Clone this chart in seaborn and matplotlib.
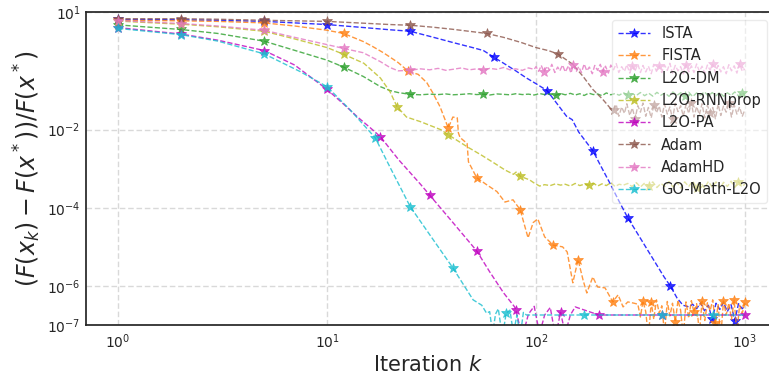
import numpy as np
import matplotlib
matplotlib.use("Agg")
import matplotlib.pyplot as plt
from matplotlib.ticker import NullLocator
import seaborn as sns

# iteration grid shared by the noisy tails (k = 25 ... 1000)
K_LATE = [25, 28, 31, 34, 37, 40, 44, 48, 52, 56,
          60, 65, 70, 75, 80, 86, 92, 98, 104, 110,
          117, 124, 131, 138, 146, 154, 162, 170, 179, 188,
          197, 207, 217, 228, 239, 250, 262, 275, 288, 302,
          316, 331, 346, 362, 379, 396, 414, 433, 452, 472,
          493, 515, 538, 562, 587, 613, 640, 668, 697, 727,
          758, 790, 823, 858, 894, 931, 970, 1000]

# finer grid for the widest noise bands (k = 100 ... 1000)
K_DENSE = [100, 103, 106, 109, 113, 116, 119, 123, 127, 130,
           134, 138, 143, 147, 151, 156, 160, 165, 170, 175,
           180, 186, 191, 197, 203, 209, 215, 222, 228, 235,
           242, 249, 257, 265, 272, 281, 289, 298, 307, 316,
           325, 335, 345, 356, 366, 377, 389, 400, 412, 425,
           437, 450, 464, 478, 492, 507, 522, 538, 554, 570,
           587, 605, 623, 642, 661, 681, 701, 722, 744, 766,
           789, 813, 837, 862, 888, 915, 942, 971, 1000]


def after(grid, start, stop=None):
    return [k for k in grid if k >= start and (stop is None or k <= stop)]


# ISTA
k_ista = [1, 2, 3, 5, 7, 10, 15, 20, 25, 32, 40, 50, 56, 63, 70, 80, 90, 100,
          113, 125, 140, 149, 160, 175, 187, 200, 225, 250, 275, 300, 340,
          375, 410, 440, 473, 505, 540] + after(K_LATE, 562)
v_ista = [6.6, 6.5, 6.3, 5.9, 5.4, 4.9, 4.1, 3.6, 3.3, 2.34, 1.7, 1.25, 1.06,
          0.71, 0.50, 0.32, 0.21, 0.15, 0.10, 0.049, 0.022, 0.018, 8.7e-3,
          4.6e-3, 2.9e-3, 1.45e-3, 4.4e-4, 1.45e-4, 5.5e-5, 2.6e-5, 8.7e-6,
          3.7e-6, 1.7e-6, 9.8e-7, 4.9e-7, 3.2e-7, 2.9e-7,
          3.4e-7, 2.6e-7, 3.7e-7, 2.3e-7, 3.2e-7, 1.4e-7, 3.6e-7, 2.5e-7,
          3.8e-7, 2.2e-7, 3.3e-7, 1.3e-7, 3.5e-7, 2.6e-7, 3.1e-7]

# FISTA
k_fista = [1, 2, 3, 5, 7, 10, 12, 14.9, 16.5, 18.6, 20, 21.9, 24.5, 27.3, 30,
           32, 34.7, 36.7, 38, 40, 42, 42.5, 43.3, 46.8, 47.5, 52, 58, 65, 71,
           77.6, 84, 91.6, 97, 102, 110, 121, 134, 141, 150, 159, 168, 175,
           187, 197, 214, 233, 247, 261, 275, 295] + after(K_DENSE, 307)
v_fista = [6.3, 6.1, 5.9, 5.4, 4.5, 3.5, 2.9, 1.8, 1.35, 0.93, 0.72, 0.52,
           0.31, 0.26, 0.16, 0.089, 0.039, 0.018, 0.011, 0.021, 0.020, 8.3e-3,
           6.3e-3, 4.4e-3, 1.5e-3, 5.9e-4, 3.9e-4, 2.6e-4, 1.4e-4, 1.6e-4,
           8.9e-5, 1.7e-5, 4.2e-5, 5.2e-5, 1.8e-5, 1.1e-5, 1.0e-5, 7.4e-6,
           1.2e-6, 4.7e-6, 1.4e-6, 6.6e-7, 1.7e-6, 9.4e-7, 8.9e-7, 3.9e-7,
           5.9e-7, 2.9e-7, 3.9e-7, 3.6e-7,
           3.4e-7, 1.6e-7, 4.1e-7, 2.2e-7, 5e-8, 3.8e-7, 1.4e-7, 4.4e-7, 2.0e-7, 3.1e-7,
           6e-8, 4.0e-7, 1.7e-7, 3.6e-7, 1.2e-7, 4.3e-7, 2.4e-7, 5e-8, 3.9e-7, 1.5e-7,
           4.2e-7, 2.1e-7, 3.5e-7, 6e-8, 4.0e-7, 1.3e-7, 3.7e-7, 2.3e-7, 4.4e-7, 1.1e-7,
           3.3e-7, 5e-8, 4.1e-7, 1.8e-7, 3.6e-7, 1.4e-7, 4.3e-7, 6e-8, 3.2e-7, 2.0e-7,
           3.8e-7]

# L2O-DM
k_dm = [1, 2, 3, 5, 7, 10, 12, 14.9, 18, 20, 21.9] + after(K_LATE, 25)
v_dm = [4.8, 3.66, 2.9, 1.84, 1.07, 0.6, 0.40, 0.23, 0.126, 0.10, 0.089,
        0.080, 0.078, 0.081, 0.079, 0.082, 0.078, 0.080, 0.083, 0.079, 0.081,
        0.077, 0.082, 0.080, 0.078, 0.083, 0.079, 0.081, 0.077, 0.084, 0.079,
        0.082, 0.076, 0.084, 0.078, 0.085, 0.077, 0.083, 0.075, 0.086, 0.079,
        0.082, 0.074, 0.087, 0.078, 0.084, 0.076, 0.088, 0.077, 0.083, 0.075,
        0.089, 0.074, 0.086, 0.072, 0.090, 0.076, 0.087, 0.071, 0.092, 0.075,
        0.088, 0.073, 0.091, 0.070, 0.087, 0.076, 0.093, 0.072, 0.089, 0.074,
        0.090, 0.071, 0.088, 0.075, 0.092, 0.073, 0.087, 0.079]

# L2O-RNNprop
k_rnn = [1, 2, 3, 5, 7, 10, 12, 15, 18, 20, 21.6, 24, 28, 35, 38, 47, 55, 63,
         71, 78, 81, 84, 93, 98] + after(K_LATE, 104)
v_rnn = [6.0, 5.0, 4.3, 3.3, 2.1, 1.26, 0.85, 0.50, 0.21, 0.094, 0.039, 0.021,
         0.016, 0.010, 7.4e-3, 3.6e-3, 2.2e-3, 1.4e-3, 9.3e-4, 7.2e-4, 8.5e-4,
         6.4e-4, 5.2e-4, 4.3e-4,
         3.6e-4, 3.9e-4, 3.7e-4, 4.1e-4, 3.8e-4, 4.0e-4, 3.6e-4, 4.2e-4, 3.7e-4, 4.0e-4,
         3.8e-4, 4.3e-4, 3.6e-4, 4.1e-4, 3.7e-4, 4.4e-4, 3.5e-4, 4.0e-4, 3.8e-4, 4.2e-4,
         3.5e-4, 4.4e-4, 3.4e-4, 4.3e-4, 3.6e-4, 4.6e-4, 3.3e-4, 4.2e-4, 3.5e-4, 4.7e-4,
         3.4e-4, 4.5e-4, 3.2e-4, 4.6e-4, 3.5e-4, 4.8e-4, 3.3e-4, 4.4e-4, 3.2e-4, 4.7e-4,
         3.4e-4, 4.6e-4, 3.1e-4, 4.5e-4, 3.5e-4, 4.8e-4, 3.3e-4, 4.6e-4, 3.6e-4, 4.0e-4]

# L2O-PA
k_pa = [1, 2, 3, 5, 7, 10, 12, 14, 16, 18, 22, 28, 31, 40, 52, 60, 70, 79,
        80, 86, 92, 98, 104, 110, 117, 124, 131, 138, 146, 154,
        200, 250, 320, 400, 500, 630, 800, 1000]
v_pa = [4.1, 2.8, 1.95, 1.06, 0.45, 0.107, 0.045, 0.021, 0.0115, 6.6e-3,
        1.7e-3, 4.0e-4, 2.1e-4, 4.2e-5, 7.9e-6, 2.3e-6, 6.6e-7, 2.9e-7,
        2.4e-7, 5e-8, 1.9e-7, 3.0e-7, 6e-8, 1.8e-7, 2.8e-7, 5e-8, 2.1e-7, 6e-8,
        1.8e-7, 2.9e-7,
        1.8e-7, 1.8e-7, 1.8e-7, 1.8e-7, 1.8e-7, 1.8e-7, 1.8e-7, 1.8e-7]

# Adam
k_adam = [1, 2, 3, 5, 7, 10, 15, 20, 25, 32, 40, 50, 58, 70, 85, 100, 115,
          127, 150, 168, 187, 209, 226] + after(K_DENSE, 235)
v_adam = [6.9, 6.9, 6.7, 6.3, 6.1, 5.9, 5.3, 4.9, 4.7, 4.2, 3.7, 3.2, 2.9,
          2.3, 1.7, 1.26, 1.05, 0.87, 0.47, 0.23, 0.107, 0.059, 0.036,
          0.032, 0.044, 0.022, 0.038, 0.026, 0.046, 0.023, 0.036, 0.019, 0.041,
          0.028, 0.048, 0.022, 0.037, 0.020, 0.043, 0.027, 0.040, 0.021, 0.045,
          0.025, 0.038, 0.019, 0.047, 0.029, 0.041, 0.022, 0.044, 0.026, 0.049,
          0.021, 0.039, 0.024, 0.046, 0.020, 0.042, 0.027, 0.037, 0.019, 0.045,
          0.023, 0.040, 0.028, 0.047, 0.021, 0.043, 0.025, 0.038, 0.022, 0.033]

# AdamHD
k_hd = ([1, 2, 3, 5, 7, 10, 12, 14.9, 18, 20, 21.9]
        + after(K_LATE, 25, 98) + K_DENSE)
v_hd = [6.2, 5.2, 4.5, 3.5, 2.3, 1.5, 1.2, 0.93, 0.55, 0.39, 0.32,
        0.33, 0.36, 0.34, 0.37, 0.33, 0.35, 0.38, 0.34, 0.36, 0.33,
        0.37, 0.35, 0.39, 0.34, 0.36, 0.33, 0.38, 0.35,
        0.41, 0.31, 0.44, 0.30, 0.42, 0.33, 0.47, 0.29, 0.40, 0.32,
        0.45, 0.30, 0.43, 0.28, 0.46, 0.31, 0.41, 0.29, 0.48, 0.32,
        0.40, 0.27, 0.44, 0.33, 0.47, 0.30, 0.42, 0.28, 0.45, 0.34,
        0.49, 0.29, 0.41, 0.31, 0.46, 0.28, 0.43, 0.32, 0.48, 0.29,
        0.44, 0.30, 0.42, 0.27, 0.47, 0.31, 0.43, 0.29, 0.45, 0.33,
        0.50, 0.28, 0.44, 0.32, 0.41, 0.27, 0.46, 0.30, 0.43, 0.29,
        0.48, 0.31, 0.42, 0.28, 0.45, 0.33, 0.47, 0.29, 0.44, 0.30,
        0.41, 0.27, 0.46, 0.32, 0.43, 0.28, 0.49, 0.31, 0.36]

# GO-Math-L2O
k_go = [1, 2, 3, 5, 7.4, 10, 12.9, 17, 20, 25, 32, 40, 45, 50, 55, 58,
        60, 62, 64, 66, 69, 72, 75, 78, 81, 84, 87, 90,
        100, 130, 170, 230, 300, 400, 530, 700, 1000]
v_go = [3.9, 2.7, 1.85, 0.87, 0.31, 0.126, 0.032, 6.2e-3, 1.1e-3, 1.07e-4,
        1.6e-5, 2.9e-6, 1.07e-6, 4.4e-7, 3.2e-7, 2.0e-7,
        2.2e-7, 6e-8, 1.9e-7, 2.6e-7, 5e-8, 2.0e-7, 2.4e-7, 6e-8, 1.8e-7, 5e-8,
        2.1e-7, 1.8e-7,
        1.8e-7, 1.8e-7, 1.8e-7, 1.8e-7, 1.8e-7, 1.8e-7, 1.8e-7, 1.8e-7, 1.8e-7]

labels = ['ISTA', 'FISTA', 'L2O-DM', 'L2O-RNNprop', 'L2O-PA', 'Adam',
          'AdamHD', 'GO-Math-L2O']
colors = ['blue', '#ff7f0e', '#2ca02c', '#bcbd22', '#bf00bf', '#8c564b',
          '#e377c2', '#17becf']
series = [(k_ista, v_ista), (k_fista, v_fista), (k_dm, v_dm), (k_rnn, v_rnn),
          (k_pa, v_pa), (k_adam, v_adam), (k_hd, v_hd), (k_go, v_go)]

yticks = [1e1, 1e-2, 1e-4, 1e-6, 1e-7]

sns.set_theme(style="whitegrid", rc={
    "axes.edgecolor": "0.15",
    "axes.linewidth": 1.25,
    "grid.linestyle": (0, (4, 2)),
    "grid.color": "0.85",
    "grid.linewidth": 1.0,
})
plt.rcParams['font.family'] = ['DejaVu Sans']

fig = plt.figure(figsize=(7.69, 3.77), dpi=100)
ax = fig.add_axes([0.112, 0.138, 0.888, 0.829])

for (k, v), name, c in zip(series, labels, colors):
    assert len(k) == len(v), name
    sns.lineplot(x=np.array(k, dtype=float), y=np.array(v), ax=ax, color=c,
                 label=name, linestyle='--', linewidth=1.0, alpha=0.8,
                 marker='*', markersize=7, markevery=0.1,
                 markeredgecolor=c, markeredgewidth=0.5, errorbar=None)

ax.set_xscale('log')
ax.set_yscale('log')
ax.set_yticks(yticks)
ax.xaxis.set_minor_locator(NullLocator())
ax.yaxis.set_minor_locator(NullLocator())
ax.set_xlim(10 ** -0.153, 10 ** 3.115)
ax.set_ylim(1e-7, 1e1)
ax.spines['right'].set_visible(False)
ax.tick_params(axis='x', labelsize=10, length=0, pad=5)
ax.tick_params(axis='y', labelsize=10, length=0, pad=4)

ax.set_xlabel(r'Iteration $k$', fontsize=15, labelpad=3)
ax.set_ylabel(r'$(F(x_k) - F(x^*))/F(x^*)$', fontsize=17, labelpad=3)

ax.legend(loc='upper right', bbox_to_anchor=(0.997, 0.975), borderaxespad=0,
          fontsize=10.5, framealpha=0.5, edgecolor='0.85', handlelength=2.2)

fig.savefig('out.png', dpi=100)
